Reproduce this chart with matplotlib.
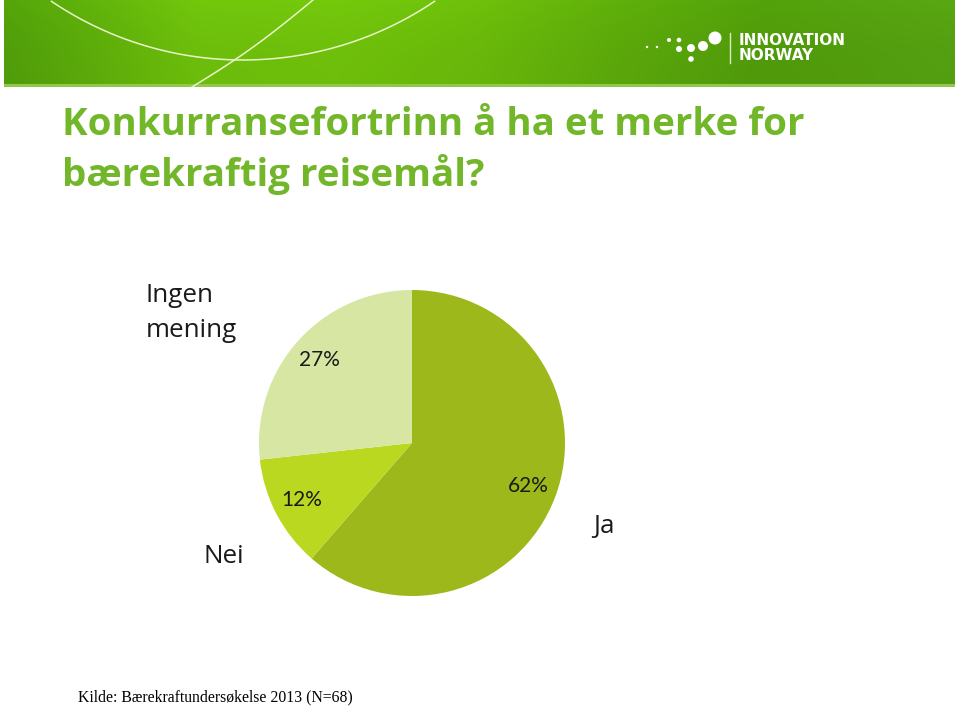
import numpy as np
import matplotlib
matplotlib.use("Agg")
import matplotlib.pyplot as plt
from matplotlib.patches import Circle, Rectangle

# ---- data ----
categories = ["Ja", "Nei", "Ingen mening"]
values = [62, 12, 27]
slice_colors = ["#9db81a", "#bad81f", "#d7e7a3"]
title_lines = ["Konkurransefortrinn å ha et merke for", "bærekraftig reisemål?"]
source = "Kilde: Bærekraftundersøkelse 2013 (N=68)"

W, H = 959, 708
fig = plt.figure(figsize=(W / 100, H / 100), dpi=100)
fig.patch.set_facecolor("white")

bg = fig.add_axes([0, 0, 1, 1])
bg.set_xlim(0, W)
bg.set_ylim(H, 0)
bg.axis("off")

# ---- banner gradient ----
nx, ny = 400, 60
xs = np.linspace(0, 1, nx)
stops_x = [0.0, 0.06, 0.2, 0.35, 0.5, 0.65, 0.8, 1.0]
stops_c = np.array([
    [0x50, 0x9c, 0x0a], [0x57, 0xa5, 0x0a], [0x6c, 0xbc, 0x0b], [0x6e, 0xbe, 0x0b],
    [0x68, 0xb6, 0x0a], [0x5a, 0xa6, 0x0a], [0x4f, 0x99, 0x0a], [0x54, 0x9e, 0x12]]) / 255.0
row = np.stack([np.interp(xs, stops_x, stops_c[:, k]) for k in range(3)], axis=-1)
img = np.repeat(row[None, :, :], ny, axis=0)
ys = np.linspace(0, 1, ny)
shade = 1.0 + 0.06 * (1 - ys) ** 2
img = np.clip(img * shade[:, None, None], 0, 1)
bg.imshow(img, extent=[4, 955, 87, 0], aspect="auto", zorder=1, interpolation="bilinear")
bg.add_patch(Rectangle((4, 84), 951, 3, color="#8fc84a", zorder=2, lw=0))

# banner arcs
t = np.linspace(0, np.pi, 400)
cx, cy, r = 243, -282, 342
ax_ = cx + r * np.cos(t)
ay_ = cy + r * np.sin(t)
m = ay_ >= 0
bg.plot(ax_[m], ay_[m], color="#e8f5c8", lw=1.1, zorder=3)
lx = np.linspace(313, 192, 50)
ly = np.linspace(0, 87, 50) + 4 * np.sin(np.linspace(0, np.pi, 50))
bg.plot(lx, ly, color="#e8f5c8", lw=1.1, zorder=3)

# logo
dots = [(647, 47, 1.2), (657, 47, 1.2), (669, 40, 2.0), (679, 40, 2.3), (679, 49, 3.0),
        (691, 48, 4.0), (703, 46, 5.0), (715, 38, 6.5), (691, 59, 2.8)]
for dx, dy, dr in dots:
    bg.add_patch(Circle((dx, dy), dr, color="white", zorder=4, lw=0))
bg.plot([730, 730], [33, 63], color="#d8ecc0", lw=1, zorder=4)
bg.text(739, 45, "INNOVATION", color="white", fontsize=11, fontweight="bold",
        family="DejaVu Sans", va="baseline", ha="left", zorder=5)
bg.text(739, 60, "NORWAY", color="white", fontsize=11, fontweight="bold",
        family="DejaVu Sans", va="baseline", ha="left", zorder=5)

# ---- title ----
tcol = "#72b62a"
bg.text(62, 135, title_lines[0], color=tcol, fontsize=27.7, fontweight="bold",
        family="Open Sans", va="baseline", ha="left")
bg.text(62, 186, title_lines[1], color=tcol, fontsize=27.7, fontweight="bold",
        family="Open Sans", va="baseline", ha="left")

# ---- pie ----
cxp, cyp, rp = 412, 443, 153
pax = fig.add_axes([(cxp - rp) / W, (H - cyp - rp) / H, 2 * rp / W, 2 * rp / H])
total = sum(values)
wedges, texts, autotexts = pax.pie(
    values, colors=slice_colors, startangle=90, counterclock=False,
    autopct=lambda p: f"{round(p * total / 100):.0f}%", pctdistance=0.81,
    wedgeprops=dict(linewidth=0),
    textprops=dict(fontsize=15, family="Lato", color="#1a1a1a"))
pax.set_xlim(-1, 1)
pax.set_ylim(-1, 1)

# category labels
lab_kw = dict(fontsize=18.7, family="Open Sans", color="#1a1a1a", va="baseline", ha="left")
bg.text(593, 533, categories[0], **lab_kw)
bg.text(203, 563, categories[1], **lab_kw)
bg.text(146, 302, categories[2].split(" ")[0], **lab_kw)
bg.text(146, 337, categories[2].split(" ")[1], **lab_kw)

# source
bg.text(78, 701, source, fontsize=11.3, family="Liberation Serif", color="black",
        va="baseline", ha="left")

fig.savefig("out.png", dpi=100, facecolor="white")
